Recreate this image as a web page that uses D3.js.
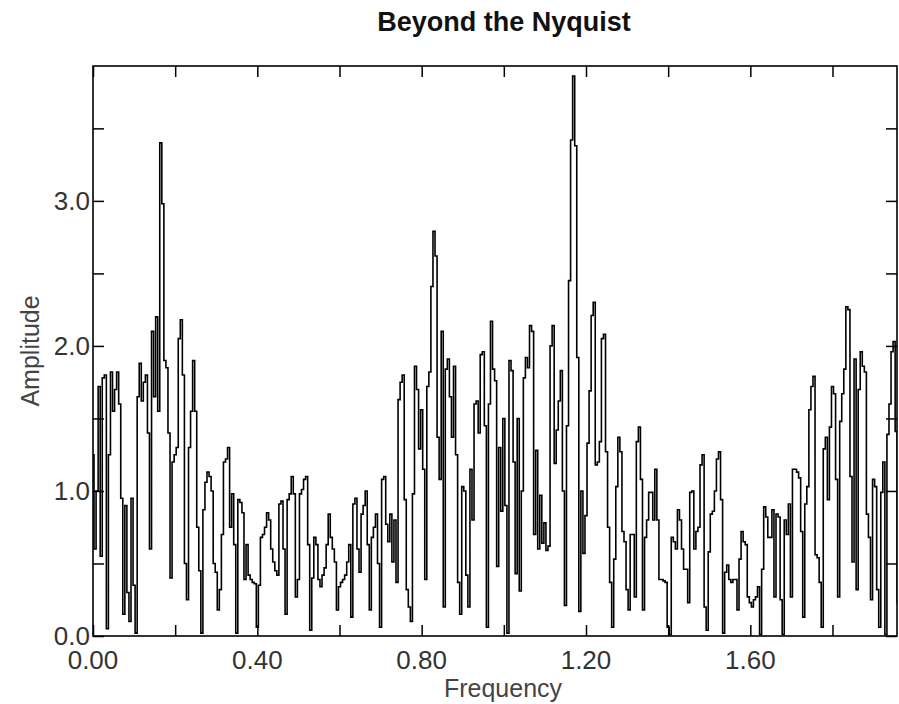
<!DOCTYPE html>
<html>
<head>
<meta charset="utf-8">
<script src="https://cdn.jsdelivr.net/npm/d3@7/dist/d3.min.js"></script>
<style>
  html, body { margin: 0; padding: 0; background: #fff; }
  svg { display: block; }
  text { font-family: "Liberation Sans", Arial, Helvetica, sans-serif; }
</style>
</head>
<body>
<svg id="chart" width="899" height="704"></svg>
<script>
// ---- data ----
const title = "Beyond the Nyquist";
const xTitle = "Frequency";
const yTitle = "Amplitude";
const freqStep = 0.005;          // sampling interval of the frequency axis
const xMax = 1.957;
const yMax = 3.93;
const xMajorTicks = [0.0, 0.4, 0.8, 1.2, 1.6];
const xMinorTicks = [0.2, 0.6, 1.0, 1.4, 1.8];
const yMajorTicks = [0.0, 1.0, 2.0, 3.0];
const yMinorTicks = [0.5, 1.5, 2.5, 3.5];

const amp1 = [1.25,0.6,1.0,1.72,0.55,1.78,1.8,0.05,1.25,1.82,1.55,1.7,1.82,1.6,0.95,0.15,0.9,0.3,0.1,0.95,0.35,0.02,1.65,1.88,1.62,1.75,1.8,1.4,0.6,2.1,1.65,2.2,1.55,3.4,2.98,1.9,1.85,1.4,0.4,1.2,1.25,1.3,2.05,2.18,1.8,0.5,0.25,1.3,1.55];
const amp2 = [1.9,1.55,0.75,0.45,0.02,0.87,1.06,1.13,1.1,1.0,0.5,0.44,0.18,0.32,0.7,1.2,1.22,1.3,0.75,0.98,0.63,0.02,0.94,0.92,0.85,0.39,0.63,0.42,0.39,0.37,0.36,0.06,0.35,0.68,0.7,0.75,0.85,0.8,0.6,0.51,0.45,0.42,0.91,0.93,0.6,0.15,0.94,0.98,1.1];
const amp3 = [0.98,0.27,0.39,0.98,1.01,1.08,1.1,0.63,0.04,0.4,0.68,0.63,0.39,0.34,0.42,0.47,0.63,0.84,0.68,0.6,0.51,0.18,0.34,0.37,0.39,0.42,0.51,0.63,0.13,0.91,0.95,0.6,0.44,0.84,0.9,1.0,0.63,0.18,0.68,0.75,0.84,0.5,0.06,1.08,1.1,0.77,0.65,0.84,0.51];
const amp4 = [0.8,0.37,1.63,1.75,1.8,0.94,0.32,0.2,0.1,0.98,1.86,1.7,1.29,1.56,1.15,0.39,1.72,1.82,2.41,2.79,2.62,1.37,1.08,2.1,0.2,1.84,1.91,1.65,1.37,1.86,1.25,0.37,0.15,1.03,1.0,0.42,0.2,1.15,0.8,1.6,1.62,1.4,1.94,1.96,1.45,0.06,1.6,2.17,1.84];
const amp5 = [1.76,0.48,1.3,0.86,1.5,0.9,0.02,1.9,1.83,1.2,0.43,1.5,0.31,1.0,1.78,1.92,1.85,2.14,2.1,0.7,1.28,0.6,0.97,0.64,0.78,0.59,0.62,2.0,2.14,1.19,1.42,1.62,1.83,1.0,0.21,1.45,2.45,3.42,3.86,3.38,1.92,0.17,1.0,0.57,0.83,1.33,1.69,2.21,2.3];
const amp6 = [1.18,1.2,1.34,2.05,2.08,1.27,0.75,0.37,0.06,0.53,1.03,1.37,1.27,0.72,0.65,0.32,0.18,0.7,0.7,0.27,1.34,1.44,1.08,0.18,0.68,0.8,0.99,0.99,0.8,1.15,0.8,0.39,0.39,0.38,0.37,0.06,0.01,0.68,0.65,0.6,0.87,0.8,0.6,0.46,0.46,0.23,0.99,1.0,0.6];
const amp7 = [0.72,0.75,1.18,1.25,0.2,0.04,0.58,0.84,0.86,1.0,1.22,1.27,0.94,0.02,0.44,0.49,0.39,0.37,0.39,0.39,0.18,0.53,0.72,0.65,0.63,0.27,0.23,0.2,0.25,0.27,0.34,0.01,0.46,0.89,0.82,0.68,0.68,0.87,0.27,0.84,0.82,0.25,0.01,0.8,0.7,0.91,0.27,1.15,1.15];
const amp8 = [1.13,1.09,0.72,0.13,0.91,1.03,1.56,1.72,1.79,0.56,0.54,0.37,0.06,1.29,1.37,0.94,1.44,1.72,1.67,1.08,0.27,1.48,1.67,1.84,2.27,2.25,1.1,0.51,1.91,0.32,1.7,1.96,1.86,1.82,0.84,0.68,0.25,1.08,1.03,0.32,0.06,0.99,1.2,0.01,1.39,1.6,1.96,2.03,1.41,0.23,2.0];

const amplitude = [].concat(amp1, amp2, amp3, amp4, amp5, amp6, amp7, amp8);
const data = amplitude.map((a, i) => ({ f: i * freqStep, a: a }));

// ---- layout ----
const svg = d3.select("#chart");
const L = 93, R = 897, T = 66, B = 636;
const x = d3.scaleLinear().domain([0, xMax]).range([L, R]);
const y = d3.scaleLinear().domain([0, yMax]).range([B, T]);
const tickLen = 11;

svg.append("defs").append("clipPath").attr("id", "plotclip")
  .append("rect").attr("x", L).attr("y", T).attr("width", R - L).attr("height", B - T);

// data line (step)
const line = d3.line().x(d => x(d.f)).y(d => y(d.a)).curve(d3.curveStep);
svg.append("path")
  .datum(data)
  .attr("clip-path", "url(#plotclip)")
  .attr("fill", "none")
  .attr("stroke", "#000")
  .attr("stroke-width", 1.6)
  .attr("d", line);

// axes with inward ticks on all four sides
const allX = xMajorTicks.concat(xMinorTicks);
const allY = yMajorTicks.concat(yMinorTicks);
const fmtX = d3.format(".2f"), fmtY = d3.format(".1f");

svg.append("g").attr("transform", `translate(0,${B})`)
  .call(d3.axisBottom(x).tickValues(allX).tickSizeInner(-tickLen).tickSizeOuter(0).tickFormat(""))
  .call(g => g.select(".domain").remove());
svg.append("g").attr("transform", `translate(0,${T})`)
  .call(d3.axisTop(x).tickValues(allX).tickSizeInner(-tickLen).tickSizeOuter(0).tickFormat(""))
  .call(g => g.select(".domain").remove());
svg.append("g").attr("transform", `translate(${L},0)`)
  .call(d3.axisLeft(y).tickValues(allY).tickSizeInner(-tickLen).tickSizeOuter(0).tickFormat(""))
  .call(g => g.select(".domain").remove());
svg.append("g").attr("transform", `translate(${R},0)`)
  .call(d3.axisRight(y).tickValues(allY).tickSizeInner(-tickLen).tickSizeOuter(0).tickFormat(""))
  .call(g => g.select(".domain").remove());
svg.selectAll(".tick line").attr("stroke", "#000").attr("stroke-width", 1.5);

// frame
svg.append("rect").attr("x", L).attr("y", T).attr("width", R - L).attr("height", B - T)
  .attr("fill", "none").attr("stroke", "#000").attr("stroke-width", 1.6);

// tick labels
svg.append("g").selectAll("text").data(xMajorTicks).join("text")
  .attr("x", d => x(d)).attr("y", 669)
  .attr("text-anchor", "middle").attr("font-size", 26).attr("fill", "#333")
  .text(d => fmtX(d));
svg.append("g").selectAll("text").data(yMajorTicks).join("text")
  .attr("x", 90).attr("y", d => y(d) + 9)
  .attr("text-anchor", "end").attr("font-size", 26).attr("fill", "#333")
  .text(d => fmtY(d));

// titles
svg.append("text").attr("x", 504).attr("y", 31).attr("text-anchor", "middle")
  .attr("font-size", 27).attr("font-weight", "bold").attr("fill", "#111").text(title);
svg.append("text").attr("x", 503).attr("y", 697).attr("text-anchor", "middle")
  .attr("font-size", 25).attr("fill", "#444").text(xTitle);
svg.append("text").attr("transform", "translate(39,351) rotate(-90)").attr("text-anchor", "middle")
  .attr("font-size", 25).attr("fill", "#444").text(yTitle);
</script>
</body>
</html>
